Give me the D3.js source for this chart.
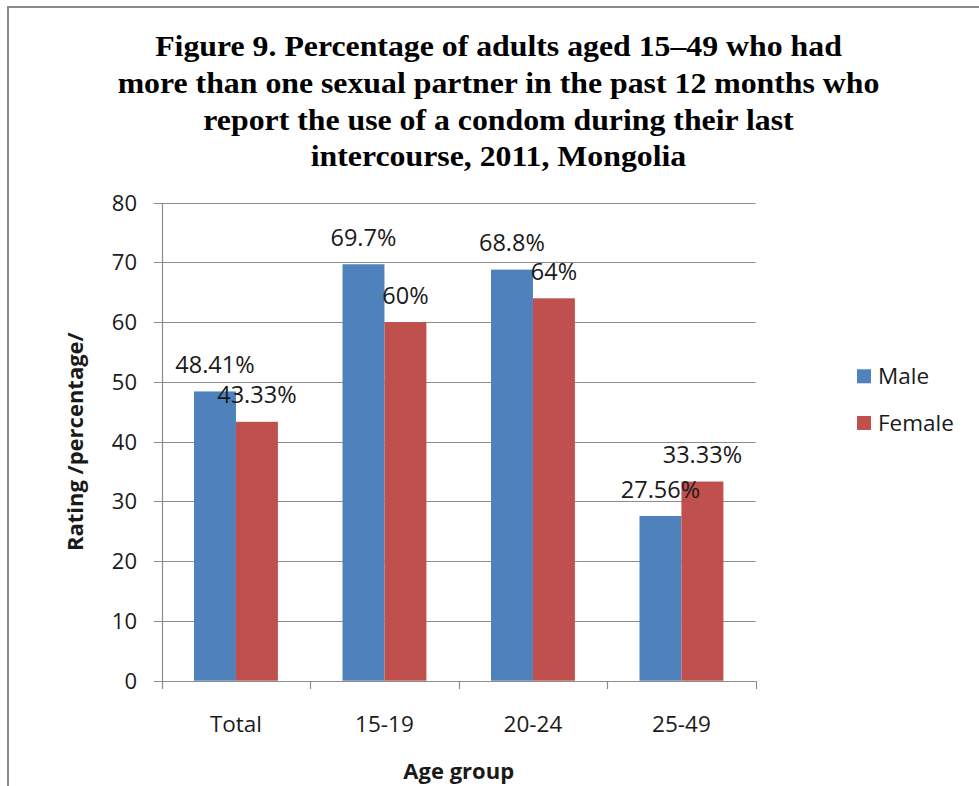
<!DOCTYPE html>
<html><head><meta charset="utf-8">
<script src="https://cdn.jsdelivr.net/npm/d3@7"></script>
<style>body{margin:0;background:#fff} svg{display:block}</style>
</head><body><svg id="c" width="979" height="786"></svg>
<script>
const titleLines = [
  "Figure 9. Percentage of adults aged 15\u201349 who had",
  "more than one sexual partner in the past 12 months who",
  "report the use of a condom during their last",
  "intercourse, 2011, Mongolia"
];
const categories = ["Total", "15-19", "20-24", "25-49"];
const seriesNames = ["Male", "Female"];
const maleValues = [48.41, 69.7, 68.8, 27.56];
const femaleValues = [43.33, 60, 64, 33.33];
const maleLabels = ["48.41%", "69.7%", "68.8%", "27.56%"];
const femaleLabels = ["43.33%", "60%", "64%", "33.33%"];
const yTicks = [0, 10, 20, 30, 40, 50, 60, 70, 80];
const yTitle = "Rating /percentage/";
const xTitle = "Age group";

const colors = {Male: "#4F81BD", Female: "#C0504D"};
const svg = d3.select("#c");
const font = "'Open Sans', sans-serif";
const textCol = "#1a1a1a";
const gridCol = "#8c8c8c";

// outer border
svg.append("rect").attr("x", 8).attr("y", 7).attr("width", 1200).attr("height", 1200)
  .attr("fill", "none").attr("stroke", "#8a8a8a").attr("stroke-width", 2);

const L = 161.7, R = 755.7, T = 202.7, B = 680.7;
const x0 = d3.scaleBand().domain(categories).range([L, R]).padding(0);
const x1 = d3.scaleBand().domain(seriesNames).range([0, x0.bandwidth()]).paddingInner(0).paddingOuter(0.77);
const y = d3.scaleLinear().domain([0, 80]).range([B, T]);

// title
const tg = svg.append("g");
const baselines = [56, 93, 129.5, 166];
const tl = tg.selectAll("text").data(titleLines).join("text")
  .attr("x", 0).attr("y", 0)
  .attr("text-anchor", "middle")
  .attr("font-family", "'Liberation Serif', 'Times New Roman', serif")
  .attr("font-weight", "bold").attr("font-size", 29.5).attr("fill", "#000")
  .text(d => d);
const w0 = tl.nodes()[0].getComputedTextLength();
const sx = 687 / w0;
tl.attr("transform", (d, i) => `translate(498.5,${baselines[i]}) scale(${sx},1)`);

// gridlines
svg.append("g").selectAll("line").data(yTicks).join("line")
  .attr("x1", L - 8).attr("x2", R)
  .attr("y1", d => Math.round(y(d)) + 0.5).attr("y2", d => Math.round(y(d)) + 0.5)
  .attr("stroke", gridCol).attr("stroke-width", 1.2);

// y axis line
svg.append("line").attr("x1", Math.round(L) + 0.5).attr("x2", Math.round(L) + 0.5)
  .attr("y1", Math.round(T)).attr("y2", Math.round(B) + 1)
  .attr("stroke", gridCol).attr("stroke-width", 1.2);

// x tick marks
const xb = categories.map(c => x0(c)).concat([R]);
svg.append("g").selectAll("line").data(xb).join("line")
  .attr("x1", d => Math.round(d) + 0.5).attr("x2", d => Math.round(d) + 0.5)
  .attr("y1", Math.round(B)).attr("y2", Math.round(B) + 8)
  .attr("stroke", gridCol).attr("stroke-width", 1.2);

// y tick labels
svg.append("g").selectAll("text").data(yTicks).join("text")
  .attr("x", 137).attr("y", d => y(d)).attr("dy", "0.36em")
  .attr("text-anchor", "end").attr("font-family", font).attr("font-size", 22)
  .attr("fill", textCol).text(d => d);

// x tick labels
svg.append("g").selectAll("text").data(categories).join("text")
  .attr("x", d => x0(d) + x0.bandwidth() / 2).attr("y", 731.5)
  .attr("text-anchor", "middle").attr("font-family", font).attr("font-size", 22.5)
  .attr("fill", textCol).text(d => d);

// bars
const series = [
  {name: "Male", values: maleValues, labels: maleLabels},
  {name: "Female", values: femaleValues, labels: femaleLabels}
];
const gb = svg.append("g");
series.forEach(s => {
  gb.selectAll(null).data(categories).join("rect")
    .attr("x", c => x0(c) + x1(s.name)).attr("width", x1.bandwidth())
    .attr("y", (c, i) => y(s.values[i])).attr("height", (c, i) => B - y(s.values[i]))
    .attr("fill", colors[s.name]);
});
series.forEach(s => {
  gb.selectAll(null).data(categories).join("text")
    .attr("x", c => x0(c) + x1(s.name) + x1.bandwidth() / 2)
    .attr("y", (c, i) => y(s.values[i]) - 18.5)
    .attr("text-anchor", "middle").attr("font-family", font).attr("font-size", 23.5)
    .attr("fill", textCol).text((c, i) => s.labels[i]);
});

// axis titles
svg.append("text").attr("transform", `translate(83,${(T + B) / 2}) rotate(-90)`)
  .attr("text-anchor", "middle").attr("font-family", font).attr("font-weight", "bold")
  .attr("font-size", 22).attr("fill", textCol).text(yTitle);
svg.append("text").attr("x", (L + R) / 2).attr("y", 779)
  .attr("text-anchor", "middle").attr("font-family", font).attr("font-weight", "bold")
  .attr("font-size", 22).attr("fill", textCol).text(xTitle);

// legend
const lg = svg.append("g");
seriesNames.forEach((n, i) => {
  const yy = 369.3 + i * 46.7;
  lg.append("rect").attr("x", 857).attr("y", yy).attr("width", 14).attr("height", 14).attr("fill", colors[n]);
  lg.append("text").attr("x", 878).attr("y", yy + 15).attr("font-family", font).attr("font-size", 22.5)
    .attr("fill", textCol).text(n);
});
</script></body></html>
